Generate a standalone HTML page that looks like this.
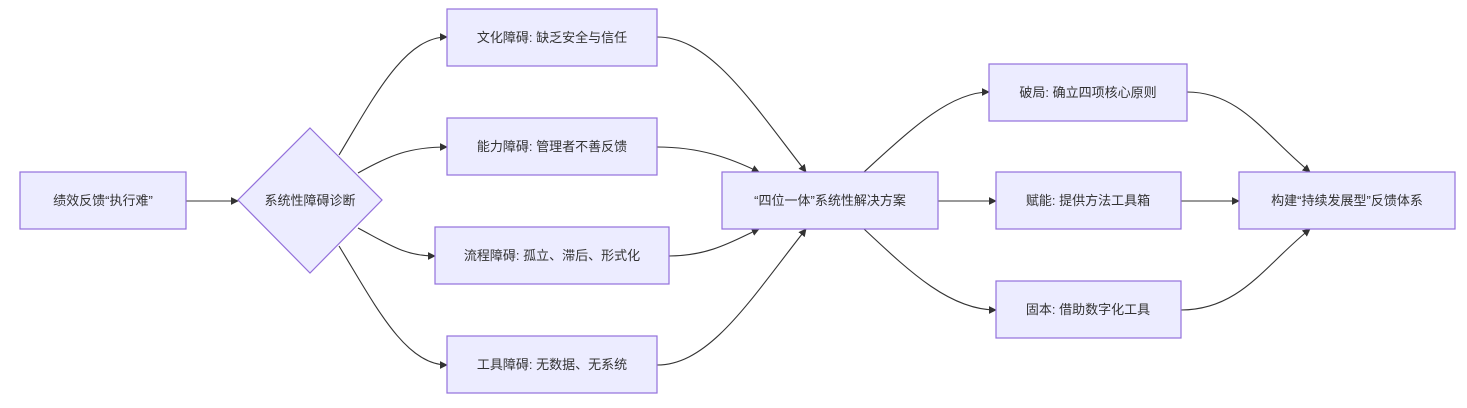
<!DOCTYPE html>
<html><head><meta charset="utf-8"><style>
html,body{margin:0;padding:0;background:#fff;}
svg{display:block;}
text{font-family:"Liberation Sans","Noto Sans CJK SC",sans-serif;font-size:13px;fill:#333;}
</style></head><body>
<svg width="1467" height="408" viewBox="0 0 1467 408" xmlns="http://www.w3.org/2000/svg">
<defs>
<marker id="a" viewBox="0 0 10 10" refX="9" refY="5" markerWidth="8" markerHeight="8" orient="auto-start-reverse" markerUnits="userSpaceOnUse">
<path d="M0,0 L10,5 L0,10 z" fill="#333"/></marker>
</defs>
<g fill="none" stroke="#333" stroke-width="1.1" marker-end="url(#a)">
<path d="M186,201 L238,201"/>
<path d="M339,155 C375,95 405,37 447,37"/>
<path d="M358,173 C390,155 410,147 447,147"/>
<path d="M358,228 C390,245 405,256 435,256"/>
<path d="M339,246 C375,305 405,365 447,365"/>
<path d="M657,37 C710,37 750,100 806,172"/>
<path d="M657,147 C700,147 730,158 759,172"/>
<path d="M669,256 C710,256 735,240 759,229"/>
<path d="M657,365 C710,365 750,300 806,229"/>
<path d="M864,172 C910,130 950,92 989,92"/>
<path d="M938,201 L996,201"/>
<path d="M864,229 C910,272 950,310 996,310"/>
<path d="M1187,92 C1240,92 1265,135 1310,172"/>
<path d="M1181,201 L1239,201"/>
<path d="M1181,310 C1240,310 1265,265 1310,229"/>
</g>
<g fill="#ECECFF" stroke="#9370DB" stroke-width="1.2">
<rect x="20" y="172" width="166" height="57"/>
<polygon points="310,128 382,200 310,273 238,200"/>
<rect x="447" y="9" width="210" height="57"/>
<rect x="447" y="118" width="210" height="57"/>
<rect x="435" y="227" width="234" height="57"/>
<rect x="447" y="336" width="210" height="57"/>
<rect x="722" y="172" width="216" height="57"/>
<rect x="989" y="64" width="198" height="57"/>
<rect x="996" y="172" width="185" height="57"/>
<rect x="996" y="281" width="185" height="57"/>
<rect x="1239" y="172" width="216" height="57"/>
</g>
<g text-anchor="middle">
<text x="103" y="205">绩效反馈“执行难”</text>
<text x="310" y="205">系统性障碍诊断</text>
<text x="552" y="42">文化障碍: 缺乏安全与信任</text>
<text x="552" y="151">能力障碍: 管理者不善反馈</text>
<text x="552" y="260">流程障碍: 孤立、滞后、形式化</text>
<text x="552" y="369">工具障碍: 无数据、无系统</text>
<text x="830" y="205">“四位一体”系统性解决方案</text>
<text x="1088" y="97">破局: 确立四项核心原则</text>
<text x="1088" y="205">赋能: 提供方法工具箱</text>
<text x="1088" y="314">固本: 借助数字化工具</text>
<text x="1347" y="205">构建“持续发展型”反馈体系</text>
</g>
</svg>
</body></html>
